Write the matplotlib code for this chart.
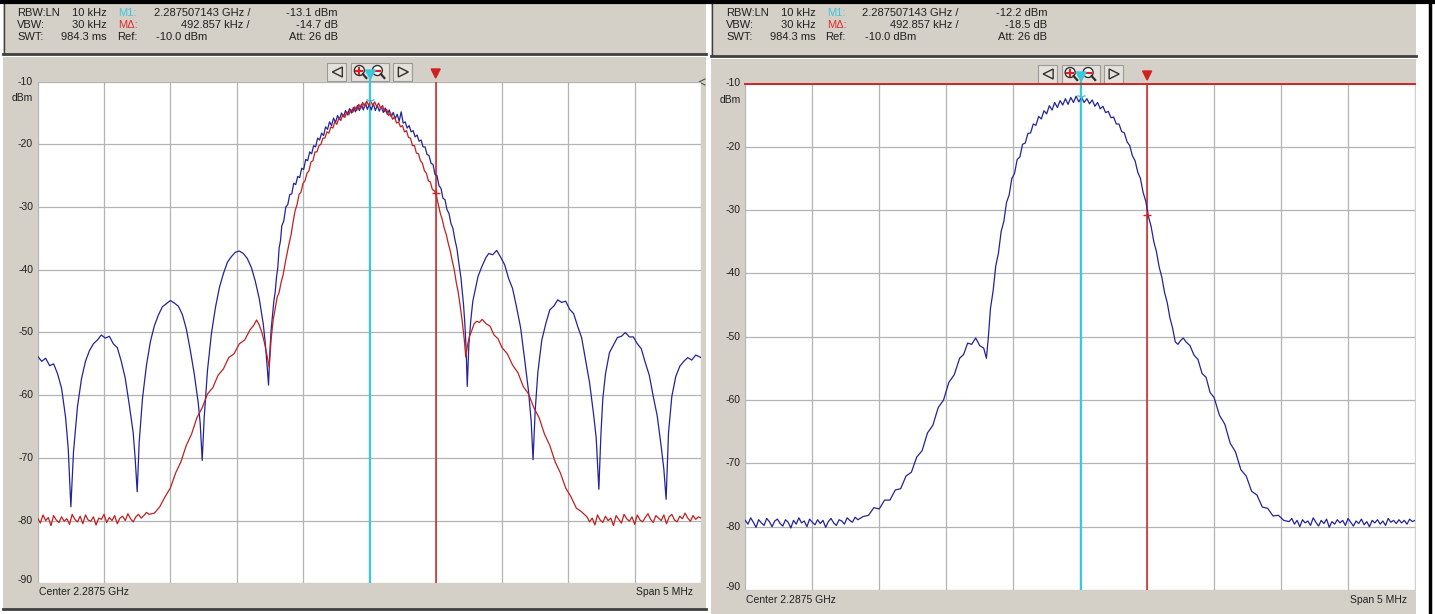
import numpy as np
import matplotlib
matplotlib.use("Agg")
import matplotlib.pyplot as plt
from matplotlib.patches import Rectangle, Polygon, Circle

# ---------------- data (frequency offset from centre in MHz, level in dBm) ----------------
center_label = "Center 2.2875 GHz"
span_label = "Span 5 MHz"
y_ticks = [-10, -20, -30, -40, -50, -60, -70, -80, -90]
y_tick_labels = ["-10", "-20", "-30", "-40", "-50", "-60", "-70", "-80", "-90"]
x_grid = [-2.5, -2.0, -1.5, -1.0, -0.5, 0.0, 0.5, 1.0, 1.5, 2.0, 2.5]

m1_offset = 0.007143          # 2.287507143 GHz
mdelta = 0.492857             # delta marker offset (MHz)

# Left panel, blue trace (unfiltered): (freq offset MHz, dBm)
blueL_pts = [
    (-2.50, -53.8), (-2.47, -54.6), (-2.44, -54.1), (-2.41, -55.3), (-2.38, -55.0), (-2.35, -56.6),
    (-2.32, -58.9), (-2.29, -63.5), (-2.27, -68.5), (-2.25, -77.8), (-2.23, -69.0), (-2.20, -61.8),
    (-2.17, -57.4), (-2.14, -54.6), (-2.11, -52.9), (-2.08, -51.8), (-2.05, -51.2), (-2.02, -50.4),
    (-1.99, -50.9), (-1.96, -50.6), (-1.93, -51.8), (-1.90, -52.4), (-1.87, -54.6), (-1.84, -57.3),
    (-1.81, -61.5), (-1.78, -66.0), (-1.765, -70.2), (-1.75, -75.4), (-1.735, -67.5), (-1.71, -60.5),
    (-1.68, -55.2), (-1.65, -51.4), (-1.62, -48.9), (-1.59, -47.2), (-1.56, -45.9), (-1.53, -45.4),
    (-1.50, -44.9), (-1.47, -45.3), (-1.44, -45.8), (-1.41, -47.1), (-1.38, -49.4), (-1.35, -52.8),
    (-1.32, -56.6), (-1.29, -61.2), (-1.275, -64.5), (-1.26, -70.4), (-1.245, -63.6), (-1.22, -56.0),
    (-1.19, -50.1), (-1.16, -46.0), (-1.13, -42.8), (-1.10, -40.6), (-1.07, -38.8), (-1.04, -37.9),
    (-1.01, -37.2), (-0.98, -37.0), (-0.95, -37.4), (-0.92, -38.2), (-0.89, -39.6), (-0.86, -41.8),
    (-0.83, -44.6), (-0.80, -48.6), (-0.785, -51.6), (-0.77, -55.5), (-0.76, -58.4), (-0.75, -53.0),
    (-0.74, -49.5), (-0.73, -47.2), (-0.72, -45.0), (-0.71, -43.6), (-0.70, -41.2), (-0.69, -39.6),
    (-0.68, -36.5), (-0.67, -35.4), (-0.66, -33.0), (-0.645, -32.2), (-0.63, -30.0), (-0.615, -29.6),
    (-0.60, -28.0), (-0.585, -27.9), (-0.57, -26.2), (-0.555, -26.4), (-0.54, -25.1), (-0.525, -25.3),
    (-0.51, -23.8), (-0.495, -24.0), (-0.48, -22.4), (-0.465, -22.6), (-0.45, -21.2), (-0.435, -21.5),
    (-0.42, -20.2), (-0.405, -20.4), (-0.39, -19.0), (-0.375, -19.3), (-0.36, -18.2), (-0.345, -18.6),
    (-0.33, -17.2), (-0.315, -17.6), (-0.30, -16.4), (-0.285, -17.0), (-0.27, -15.8), (-0.255, -16.5),
    (-0.24, -15.4), (-0.225, -16.0), (-0.21, -15.0), (-0.195, -15.6), (-0.18, -14.6), (-0.165, -15.3),
    (-0.15, -14.3), (-0.135, -15.0), (-0.12, -14.1), (-0.105, -14.8), (-0.09, -13.8), (-0.075, -14.6),
    (-0.06, -13.6), (-0.045, -14.5), (-0.03, -13.4), (-0.015, -14.4), (0.00, -13.6), (0.015, -14.5),
    (0.03, -13.5), (0.045, -14.6), (0.06, -13.8), (0.075, -14.7), (0.09, -14.0), (0.105, -14.9),
    (0.12, -14.2), (0.135, -15.2), (0.15, -14.5), (0.165, -15.6), (0.18, -14.9), (0.195, -15.9),
    (0.21, -15.2), (0.225, -16.3), (0.24, -14.8), (0.255, -16.6), (0.27, -16.4), (0.285, -17.4),
    (0.30, -17.0), (0.315, -18.0), (0.33, -17.8), (0.345, -18.8), (0.36, -18.5), (0.375, -19.5),
    (0.39, -19.3), (0.405, -20.4), (0.42, -20.4), (0.435, -21.6), (0.45, -21.8), (0.465, -23.0),
    (0.48, -23.2), (0.495, -24.8), (0.51, -25.0), (0.525, -26.6), (0.54, -27.0), (0.555, -28.6),
    (0.57, -28.8), (0.585, -30.4), (0.60, -31.0), (0.615, -32.6), (0.63, -33.4), (0.645, -35.2),
    (0.66, -36.6), (0.675, -39.0), (0.69, -41.2), (0.70, -43.4), (0.71, -45.6), (0.72, -48.6),
    (0.73, -53.0), (0.738, -58.6), (0.75, -52.0), (0.765, -48.0), (0.78, -45.0), (0.80, -43.0),
    (0.82, -41.0), (0.85, -39.4), (0.88, -38.0), (0.90, -37.4), (0.93, -37.6), (0.96, -36.9),
    (0.99, -38.0), (1.02, -39.2), (1.05, -41.4), (1.08, -43.0), (1.11, -46.0), (1.14, -49.2),
    (1.17, -54.2), (1.20, -59.4), (1.22, -64.2), (1.234, -70.3), (1.25, -62.5), (1.27, -56.4),
    (1.30, -51.2), (1.33, -48.6), (1.36, -46.4), (1.39, -45.8), (1.42, -44.8), (1.45, -45.2),
    (1.48, -45.0), (1.51, -46.3), (1.54, -47.0), (1.57, -49.0), (1.60, -50.8), (1.63, -54.4),
    (1.66, -58.0), (1.69, -63.0), (1.71, -66.8), (1.73, -75.0), (1.745, -66.5), (1.76, -60.5),
    (1.78, -56.6), (1.81, -53.2), (1.84, -52.0), (1.87, -50.8), (1.90, -50.6), (1.93, -50.0),
    (1.96, -50.7), (1.99, -50.7), (2.02, -51.8), (2.05, -52.6), (2.08, -54.8), (2.11, -56.8),
    (2.14, -60.2), (2.17, -63.3), (2.20, -68.2), (2.22, -71.8), (2.237, -76.6), (2.255, -66.0),
    (2.28, -60.2), (2.31, -57.0), (2.34, -55.4), (2.37, -54.6), (2.40, -54.0), (2.43, -54.4),
    (2.46, -53.6), (2.50, -54.0)]

# Left panel, red trace (filtered)
redL_floor_lo = [-79.6, -80.4, -79.1, -80.0, -79.5, -80.8, -79.2, -79.9, -80.3, -79.4, -80.1, -79.7,
                 -80.6, -79.0, -79.8, -80.2, -79.3, -80.5, -79.1, -79.9, -80.1, -79.4, -80.7, -79.6,
                 -79.8, -79.0, -80.3, -79.5, -80.0, -79.2, -80.5, -79.6, -79.3, -80.0, -78.9, -79.7,
                 -80.2, -79.4, -79.0, -79.6, -79.2, -78.7, -79.0]
redL_floor_lo_span = (-2.50, -1.66)
redL_pts = [
    (-1.62, -78.8), (-1.58, -77.8), (-1.54, -76.2), (-1.50, -74.8), (-1.46, -72.4), (-1.42, -70.6),
    (-1.38, -68.0), (-1.34, -66.2), (-1.30, -63.6), (-1.26, -62.0), (-1.22, -59.8), (-1.18, -58.8),
    (-1.14, -56.8), (-1.10, -55.8), (-1.06, -54.0), (-1.02, -53.4), (-0.98, -51.8), (-0.94, -51.2),
    (-0.90, -49.6), (-0.87, -48.8), (-0.85, -48.0), (-0.83, -48.8), (-0.81, -50.0), (-0.79, -51.7),
    (-0.77, -53.8), (-0.755, -55.5), (-0.74, -51.0), (-0.725, -48.0), (-0.71, -46.2), (-0.695, -44.4),
    (-0.68, -43.6), (-0.665, -42.0), (-0.65, -40.8), (-0.635, -39.0), (-0.62, -37.4), (-0.605, -35.8),
    (-0.59, -34.4), (-0.575, -32.4), (-0.56, -30.6), (-0.545, -29.6), (-0.53, -28.0), (-0.515, -27.6),
    (-0.50, -26.2), (-0.485, -25.8), (-0.47, -24.6), (-0.455, -24.2), (-0.44, -22.8), (-0.425, -22.6),
    (-0.41, -21.2), (-0.395, -21.2), (-0.38, -20.2), (-0.365, -20.0), (-0.35, -19.0), (-0.335, -19.0),
    (-0.32, -18.0), (-0.305, -18.2), (-0.29, -17.2), (-0.275, -17.4), (-0.26, -16.4), (-0.245, -16.8),
    (-0.23, -15.8), (-0.215, -16.2), (-0.20, -15.2), (-0.185, -15.7), (-0.17, -14.8), (-0.155, -15.3),
    (-0.14, -14.4), (-0.125, -14.9), (-0.11, -14.0), (-0.095, -14.6), (-0.08, -13.6), (-0.065, -14.3),
    (-0.05, -13.3), (-0.035, -14.0), (-0.02, -13.1), (-0.005, -13.8), (0.01, -13.0), (0.025, -13.8),
    (0.04, -13.2), (0.055, -14.0), (0.07, -13.4), (0.085, -14.3), (0.10, -13.8), (0.115, -14.8),
    (0.13, -14.4), (0.145, -15.4), (0.16, -15.0), (0.175, -16.0), (0.19, -15.6), (0.205, -16.6),
    (0.22, -16.4), (0.235, -17.2), (0.25, -17.0), (0.265, -18.0), (0.28, -17.8), (0.295, -18.9),
    (0.31, -19.0), (0.325, -20.2), (0.34, -20.2), (0.355, -21.4), (0.37, -21.5), (0.385, -22.6),
    (0.40, -23.0), (0.415, -24.2), (0.43, -24.6), (0.445, -25.8), (0.46, -26.0), (0.475, -27.2),
    (0.49, -27.4), (0.505, -28.2), (0.52, -29.6), (0.535, -31.0), (0.55, -32.0), (0.565, -33.4),
    (0.58, -34.4), (0.595, -35.8), (0.61, -37.0), (0.625, -38.6), (0.64, -40.0), (0.655, -42.0),
    (0.67, -43.6), (0.685, -45.8), (0.70, -48.2), (0.715, -51.0), (0.727, -53.9), (0.74, -52.0),
    (0.755, -50.6), (0.77, -49.8), (0.79, -48.6), (0.81, -48.2), (0.83, -48.4), (0.85, -47.9),
    (0.88, -48.6), (0.91, -49.0), (0.94, -50.4), (0.97, -51.0), (1.00, -52.4), (1.04, -53.4),
    (1.08, -55.2), (1.12, -56.4), (1.16, -58.6), (1.20, -59.8), (1.24, -62.0), (1.28, -63.6),
    (1.32, -66.2), (1.36, -68.0), (1.40, -70.6), (1.44, -72.4), (1.48, -74.8), (1.52, -76.2),
    (1.56, -78.0), (1.60, -78.6)]
redL_floor_hi = [-79.4, -80.2, -79.6, -80.7, -79.1, -79.9, -80.3, -79.3, -80.0, -79.6, -80.8, -79.2,
                 -79.8, -80.4, -79.0, -79.7, -80.1, -79.4, -80.6, -79.1, -79.9, -80.2, -79.5, -78.9,
                 -79.8, -80.3, -79.2, -79.6, -80.0, -79.1, -80.5, -79.4, -79.0, -79.9, -80.2, -79.3,
                 -79.7, -78.8, -79.6, -80.1, -79.2, -79.8, -79.4, -79.6]
redL_floor_hi_span = (1.64, 2.50)

# Right panel, blue trace
blueR_floor_lo = [-79.0, -79.6, -78.6, -79.3, -80.1, -78.9, -79.4, -79.8, -78.7, -79.2, -80.0, -79.1,
                  -78.8, -79.5, -79.9, -78.9, -79.3, -80.2, -79.0, -79.6, -78.6, -79.4, -79.1, -80.0,
                  -78.8, -79.3, -79.7, -78.9, -79.5, -79.0, -80.1, -79.2, -78.7, -79.4, -79.8, -78.9,
                  -79.1, -79.6, -78.6, -79.0, -79.3, -78.5, -78.9]
blueR_floor_lo_span = (-2.50, -1.66)
blueR_pts = [
    (-1.62, -78.4), (-1.58, -78.2), (-1.54, -77.0), (-1.50, -77.2), (-1.46, -75.8), (-1.42, -75.8),
    (-1.38, -74.2), (-1.34, -74.0), (-1.30, -72.0), (-1.26, -71.4), (-1.22, -69.0), (-1.18, -68.0),
    (-1.14, -65.2), (-1.10, -64.0), (-1.06, -61.2), (-1.02, -60.0), (-0.98, -57.2), (-0.94, -56.0),
    (-0.90, -53.4), (-0.87, -52.8), (-0.84, -51.0), (-0.81, -51.2), (-0.78, -50.2), (-0.75, -51.4),
    (-0.72, -51.8), (-0.70, -53.4), (-0.685, -50.0), (-0.67, -45.6), (-0.65, -42.8), (-0.63, -38.8),
    (-0.61, -36.8), (-0.59, -33.4), (-0.57, -31.8), (-0.55, -28.8), (-0.53, -27.6), (-0.51, -25.0),
    (-0.49, -24.2), (-0.47, -22.0), (-0.45, -21.6), (-0.43, -19.6), (-0.41, -19.4), (-0.39, -17.9),
    (-0.37, -17.8), (-0.35, -16.4), (-0.33, -16.6), (-0.31, -15.2), (-0.29, -15.6), (-0.27, -14.3),
    (-0.25, -14.8), (-0.23, -13.5), (-0.21, -14.2), (-0.19, -13.0), (-0.17, -13.8), (-0.15, -12.7),
    (-0.13, -13.4), (-0.11, -12.4), (-0.09, -13.3), (-0.07, -12.2), (-0.05, -13.0), (-0.03, -12.0),
    (-0.01, -12.9), (0.01, -12.2), (0.03, -13.0), (0.05, -12.4), (0.07, -13.2), (0.09, -12.6),
    (0.11, -13.6), (0.13, -13.0), (0.15, -14.0), (0.17, -13.6), (0.19, -14.6), (0.21, -14.4),
    (0.23, -15.4), (0.25, -15.3), (0.27, -16.4), (0.29, -16.4), (0.31, -17.6), (0.33, -17.8),
    (0.35, -19.2), (0.37, -19.8), (0.39, -21.4), (0.41, -22.2), (0.43, -24.0), (0.45, -25.0),
    (0.47, -27.2), (0.49, -28.6), (0.51, -31.0), (0.53, -32.6), (0.55, -35.0), (0.57, -36.6),
    (0.59, -39.0), (0.61, -40.6), (0.63, -43.0), (0.65, -44.6), (0.67, -47.0), (0.69, -48.6),
    (0.71, -50.8), (0.73, -51.2), (0.75, -50.6), (0.77, -50.2), (0.79, -50.8), (0.82, -51.4),
    (0.85, -52.9), (0.88, -53.6), (0.91, -55.8), (0.94, -56.4), (0.97, -58.8), (1.00, -59.6),
    (1.04, -62.4), (1.08, -63.8), (1.12, -66.8), (1.16, -68.2), (1.20, -71.0), (1.24, -72.0),
    (1.28, -74.4), (1.32, -75.0), (1.36, -76.9), (1.40, -77.1), (1.44, -78.3), (1.48, -78.2),
    (1.52, -79.0)]
blueR_floor_hi = [-79.2, -78.7, -79.6, -79.0, -80.0, -78.9, -79.4, -79.1, -79.8, -78.6, -79.3, -79.9,
                  -79.0, -79.5, -78.8, -80.1, -79.2, -79.6, -78.9, -79.4, -79.0, -79.8, -78.7, -79.3,
                  -79.9, -79.1, -79.5, -78.8, -79.7, -79.2, -80.0, -79.0, -79.4, -78.9, -79.6, -79.1,
                  -79.8, -78.7, -79.3, -79.0, -79.5, -78.9, -79.4, -79.0, -79.6, -78.8, -79.2, -79.0]
blueR_floor_hi_span = (1.56, 2.50)

# header texts
hdr_left = [["RBW:LN", "10 kHz", "M1:", "2.287507143 GHz /", "-13.1 dBm"],
            ["VBW:", "30 kHz", "M\u0394:", "492.857 kHz /", "-14.7 dB"],
            ["SWT:", "984.3 ms", "Ref:", "-10.0 dBm", "Att: 26 dB"]]
hdr_right = [["RBW:LN", "10 kHz", "M1:", "2.287507143 GHz /", "-12.2 dBm"],
             ["VBW:", "30 kHz", "M\u0394:", "492.857 kHz /", "-18.5 dB"],
             ["SWT:", "984.3 ms", "Ref:", "-10.0 dBm", "Att: 26 dB"]]
m1_levels = [-13.1, -12.2]
mdelta_levels = [-14.7, -18.5]

# ---------------- build traces ----------------
def seg(vals, span):
    return list(np.linspace(span[0], span[1], len(vals))), list(vals)


def unzip(pts):
    return [p[0] for p in pts], [p[1] for p in pts]


blueL_f, blueL_db = unzip(blueL_pts)
mf, md = unzip(redL_pts)
f1, d1 = seg(redL_floor_lo, redL_floor_lo_span)
f2, d2 = seg(redL_floor_hi, redL_floor_hi_span)
redL_f = f1 + mf + f2
redL_db = d1 + md + d2
mf, md = unzip(blueR_pts)
f1, d1 = seg(blueR_floor_lo, blueR_floor_lo_span)
f2, d2 = seg(blueR_floor_hi, blueR_floor_hi_span)
blueR_f = f1 + mf + f2
blueR_db = d1 + md + d2

# ---------------- figure ----------------
W, H = 1435, 614
fig = plt.figure(figsize=(W / 100, H / 100), dpi=100)
fig.patch.set_facecolor("white")
bg = fig.add_axes([0, 0, 1, 1])
bg.set_xlim(0, W)
bg.set_ylim(H, 0)
bg.axis("off")

GRAY = "#d4d0c8"
DARK = "#404040"
TXT = "#202020"
CYAN = "#3cc8dc"
RED = "#c82828"
BLUE = "#23239b"
TRED = "#c02020"
GRID = "#b4b4b4"
FONT = ["Liberation Sans", "DejaVu Sans"]
NARROW = ["Liberation Sans Narrow", "Liberation Sans", "DejaVu Sans"]


def rect(x0, y0, x1, y1, fc, ec="none", lw=0, z=0):
    bg.add_patch(Rectangle((x0, y0), x1 - x0, y1 - y0, facecolor=fc, edgecolor=ec,
                           linewidth=lw, zorder=z))


bg.plot([0, W], [1.5, 1.5], color="black", lw=3, zorder=5)
bg.plot([1430, 1430], [0, H], color="black", lw=2.5, zorder=5)

panels = [
    dict(hx0=3, hx1=706, hy1=54, py0=57, py1=609, x0=37.7, x1=701.0, y0=81.7, y1=583.3,
         tx=0, hdr=hdr_left, lbl_y=592, btn_y=63, reftop=False),
    dict(hx0=711, hx1=1416, hy1=56, py0=59, py1=614, x0=745.3, x1=1415.0, y0=83.5, y1=590.0,
         tx=709, hdr=hdr_right, lbl_y=600, btn_y=65, reftop=True),
]

axes = []
for p in panels:
    rect(p["hx0"], 3, p["hx1"], p["hy1"], GRAY, z=1)
    bg.plot([p["hx0"], p["hx1"]], [p["hy1"], p["hy1"]], color=DARK, lw=2, zorder=2)
    bg.plot([p["hx0"] + 0.5, p["hx0"] + 0.5], [3, p["hy1"]], color=DARK, lw=1, zorder=2)
    rect(p["hx0"], p["py0"], p["hx1"], p["py1"], GRAY, z=1)
    if p["py1"] < H:
        bg.plot([p["hx0"], p["hx1"]], [p["py1"], p["py1"]], color=DARK, lw=2, zorder=2)

    tx = p["tx"]
    rows_y = [12.5, 25, 37.5]
    for r, row in enumerate(p["hdr"]):
        y = rows_y[r]
        kw = dict(fontsize=8, family=FONT, va="center", zorder=6)
        bg.text(17 + tx, y, row[0], ha="left", color=TXT, **kw)
        bg.text(107 + tx, y, row[1], ha="right", color=TXT, **kw)
        if r == 0:
            bg.text(118 + tx, y, row[2], ha="left", color=CYAN, **kw)
            bg.text(250 + tx, y, row[3], ha="right", color=TXT, **kw)
        elif r == 1:
            bg.text(118 + tx, y, row[2], ha="left", color="#e03030", **kw)
            bg.text(250 + tx, y, row[3], ha="right", color=TXT, **kw)
        else:
            bg.text(137 + tx, y, row[2], ha="right", color=TXT, **kw)
            bg.text(156 + tx, y, row[3], ha="left", color=TXT, **kw)
        bg.text(338 + tx, y, row[4], ha="right", color=TXT, **kw)

    ax = fig.add_axes([p["x0"] / W, 1 - p["y1"] / H, (p["x1"] - p["x0"]) / W,
                       (p["y1"] - p["y0"]) / H])
    ax.set_facecolor("white")
    ax.set_xlim(x_grid[0], x_grid[-1])
    ax.set_ylim(y_ticks[-1], y_ticks[0])
    ax.set_xticks(x_grid)
    ax.set_yticks(y_ticks)
    ax.grid(True, color=GRID, lw=0.9)
    ax.tick_params(length=0, labelbottom=False, labelleft=False)
    for s in ax.spines.values():
        s.set_visible(False)
    ax.set_zorder(3)
    axes.append(ax)

    for v, t in zip(y_ticks, y_tick_labels):
        va = "center"
        yy = v
        if v == y_ticks[-1]:
            va = "bottom"
            yy = v - 0.3
        ax.text(-0.007, yy, t, transform=ax.get_yaxis_transform(), ha="right", va=va,
                fontsize=7.5, family=NARROW, color=TXT, clip_on=False)
    ax.text(-0.007, y_ticks[0] - 2.6, "dBm", transform=ax.get_yaxis_transform(), ha="right",
            va="center", fontsize=7.5, family=NARROW, color=TXT, clip_on=False)
    bg.text(p["x0"] + 1, p["lbl_y"], center_label, ha="left", va="center", fontsize=7.5,
            family=NARROW, color=TXT, zorder=6)
    bg.text(p["x1"] - 8, p["lbl_y"], span_label, ha="right", va="center", fontsize=7.5,
            family=NARROW, color=TXT, zorder=6)

    def fx(f, p=p):
        return p["x0"] + (f - x_grid[0]) / (x_grid[-1] - x_grid[0]) * (p["x1"] - p["x0"])

    cx = fx(0.0)
    by = p["btn_y"]
    bh = 18
    for bx0, bw in [(cx - 42, 19), (cx - 18, 38), (cx + 24, 19)]:
        rect(bx0, by, bx0 + bw, by + bh, "#e4e1da", ec="#9a9a9a", lw=0.8, z=4)
    bg.add_patch(Polygon([[cx - 27, by + 4], [cx - 27, by + 14], [cx - 37, by + 9]], closed=True,
                         facecolor="none", edgecolor="#303030", lw=1, zorder=5))
    bg.add_patch(Polygon([[cx + 29, by + 4], [cx + 29, by + 14], [cx + 39, by + 9]], closed=True,
                         facecolor="none", edgecolor="#303030", lw=1, zorder=5))
    for mx, sign in [(cx - 10, "+"), (cx + 8, "-")]:
        bg.add_patch(Circle((mx, by + 7.5), 5, facecolor="white", edgecolor="#303030", lw=1,
                            zorder=5))
        bg.plot([mx + 3.5, mx + 7], [by + 11, by + 15], color="#303030", lw=1.6, zorder=5)
        bg.plot([mx - 3, mx + 3], [by + 7.5, by + 7.5], color="#e02020", lw=1.6, zorder=6)
        if sign == "+":
            bg.plot([mx, mx], [by + 4.5, by + 10.5], color="#e02020", lw=1.6, zorder=6)

    xm1 = fx(m1_offset)
    xmd = fx(m1_offset + mdelta)
    bg.plot([xm1, xm1], [by + 14, p["y0"]], color=CYAN, lw=1.6, zorder=6)
    bg.add_patch(Polygon([[xm1 - 5, by + 7], [xm1 + 5, by + 7], [xm1, by + 16]], closed=True,
                         facecolor=CYAN, edgecolor=CYAN, zorder=7))
    bg.add_patch(Polygon([[xmd - 4.5, by + 6], [xmd + 4.5, by + 6], [xmd, by + 15]], closed=True,
                         facecolor="#d02020", edgecolor="#d02020", zorder=7))
    ax.axvline(m1_offset, color=CYAN, lw=1.6, zorder=4)
    ax.axvline(m1_offset + mdelta, color=RED, lw=1.1, zorder=4)
    if p["reftop"]:
        ax.axhline(y_ticks[0], color=RED, lw=1.4, zorder=4, clip_on=False)

bg.plot([705, 699, 705], [79, 82, 85], color="#505050", lw=0.8, zorder=6)

axL, axR = axes
axL.plot(blueL_f, blueL_db, color=BLUE, lw=0.9, zorder=5)
axL.plot(redL_f, redL_db, color=TRED, lw=0.9, zorder=5)
axR.plot(blueR_f, blueR_db, color=BLUE, lw=0.9, zorder=5)

for ax, m1v, mdv in zip(axes, m1_levels, mdelta_levels):
    ax.plot([m1_offset], [m1v], marker="1", color=CYAN, ms=7, zorder=6)
    ax.plot([m1_offset + mdelta], [m1v + mdv], marker="+", color=RED, ms=6, zorder=6)

fig.savefig("out.png", dpi=100, facecolor="white")
